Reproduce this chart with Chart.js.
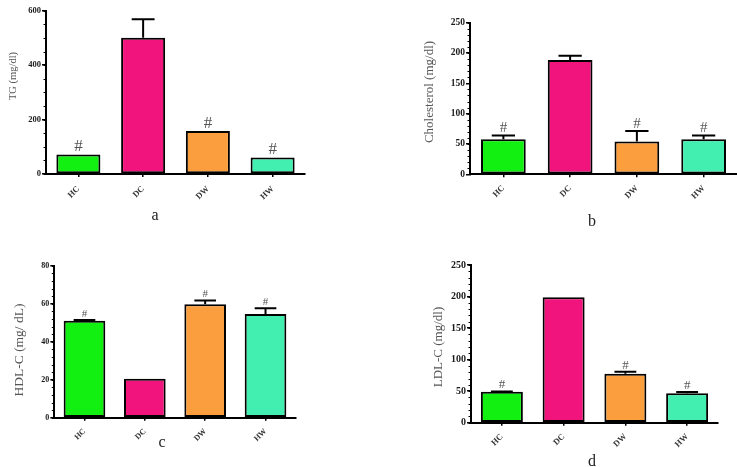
<!DOCTYPE html>
<html>
<head>
<meta charset="utf-8">
<script src="https://cdn.jsdelivr.net/npm/chart.js@4.4.1/dist/chart.umd.min.js"></script>
<style>
  body { margin: 0; background: #fff; }
  #page { position: relative; width: 737px; height: 467px; overflow: hidden; font-family: "Liberation Serif", serif; }
  canvas { position: absolute; }
  .ytitle { position: absolute; white-space: nowrap; color: #555; transform: translate(-50%, -50%) rotate(-90deg); }
  .cap { position: absolute; color: #222; font-size: 16px; line-height: 16px; transform: translateX(-50%); }
</style>
</head>
<body>
<div id="page">
  <canvas id="chartA" width="370" height="235" style="left:0;top:0"></canvas>
  <canvas id="chartB" width="367" height="235" style="left:370px;top:0"></canvas>
  <canvas id="chartC" width="370" height="232" style="left:0;top:235px"></canvas>
  <canvas id="chartD" width="367" height="232" style="left:370px;top:235px"></canvas>

  <div class="ytitle" style="left:12px;top:76px;font-size:10.5px">TG (mg/dl)</div>
  <div class="ytitle" style="left:429px;top:92px;font-size:13px">Cholesterol (mg/dl)</div>
  <div class="ytitle" style="left:19px;top:350px;font-size:13.5px">HDL-C (mg/ dL)</div>
  <div class="ytitle" style="left:438px;top:347px;font-size:13px">LDL-C (mg/dl)</div>

  <div class="cap" style="left:155px;top:207px">a</div>
  <div class="cap" style="left:592px;top:213px">b</div>
  <div class="cap" style="left:162px;top:434px">c</div>
  <div class="cap" style="left:592px;top:453px">d</div>
</div>
<script>
// groups and measured values (mean, upper error, significance mark)
const groups = ["HC", "DC", "DW", "HW"];

const tgValues = [72, 501, 158, 61];
const tgErrors = [0, 68, 0, 0];
const tgMarks = [true, false, true, true];
const tgTicks = [0, 200, 400, 600];

const cholValues = [58, 188.5, 54, 58];
const cholErrors = [6, 7, 17.5, 6];
const cholMarks = [true, false, true, true];
const cholTicks = [0, 50, 100, 150, 200, 250];

const hdlValues = [51, 20.5, 59.7, 54.6];
const hdlErrors = [0.4, 0, 2, 3];
const hdlMarks = [true, false, true, true];
const hdlTicks = [0, 20, 40, 60, 80];

const ldlValues = [49, 199, 77.6, 46.6];
const ldlErrors = [0.5, 0, 3, 2];
const ldlMarks = [true, false, true, true];
const ldlTicks = [0, 50, 100, 150, 200, 250];

const barColors = ["#12f012", "#f0147c", "#fb9e3e", "#43efb0"];

// upper error bars + "#" marks above them
function errorBarPlugin(errors, marks, markSize) {
  return {
    id: "errorBars",
    afterDatasetsDraw(chart) {
      const ctx = chart.ctx;
      const yScale = chart.scales.y;
      const values = chart.data.datasets[0].data;
      ctx.save();
      ctx.strokeStyle = "#000";
      ctx.lineWidth = 2;
      ctx.fillStyle = "#555";
      ctx.font = markSize + "px 'Liberation Serif', serif";
      ctx.textAlign = "center";
      ctx.textBaseline = "alphabetic";
      chart.getDatasetMeta(0).data.forEach((bar, i) => {
        let top = bar.y;
        if (errors[i] > 0) {
          const yTop = yScale.getPixelForValue(values[i] + errors[i]);
          const half = bar.width * 0.26;
          ctx.beginPath();
          ctx.moveTo(bar.x, bar.y);
          ctx.lineTo(bar.x, yTop);
          ctx.moveTo(bar.x - half, yTop);
          ctx.lineTo(bar.x + half, yTop);
          ctx.stroke();
          top = yTop;
        }
        if (marks[i]) ctx.fillText("#", bar.x, top - 3);
      });
      ctx.restore();
    }
  };
}

// small ticks between the labelled ones on the y axis
function minorTickPlugin(step) {
  return {
    id: "minorTicks",
    afterDraw(chart) {
      const ctx = chart.ctx;
      const y = chart.scales.y;
      const left = chart.chartArea.left;
      ctx.save();
      ctx.strokeStyle = "#000";
      ctx.lineWidth = 1;
      for (let v = 0; v <= y.max + 1e-9; v += step) {
        const py = Math.round(y.getPixelForValue(v)) + 0.5;
        ctx.beginPath();
        ctx.moveTo(left - 2.5, py);
        ctx.lineTo(left, py);
        ctx.stroke();
      }
      ctx.restore();
    }
  };
}

function makeChart(id, opt) {
  new Chart(document.getElementById(id), {
    type: "bar",
    data: {
      labels: groups,
      datasets: [{
        data: opt.values,
        backgroundColor: barColors,
        borderColor: "#000",
        borderWidth: 2,
        borderSkipped: false,
        barPercentage: opt.barPct,
        categoryPercentage: 1
      }]
    },
    options: {
      responsive: false,
      animation: false,
      layout: { padding: opt.padding },
      plugins: { legend: { display: false }, tooltip: { enabled: false } },
      scales: {
        x: {
          afterFit: (s) => { s.height = opt.xHeight; },
          border: { color: "#000", width: 2 },
          grid: { display: true, offset: false, drawOnChartArea: false, drawTicks: true, tickLength: 3, color: "#000", lineWidth: 1.5 },
          ticks: {
            minRotation: 45, maxRotation: 45, padding: opt.xPad, color: "#333",
            font: { family: "'Liberation Serif', serif", size: opt.xFont, weight: "bold" }
          }
        },
        y: {
          min: 0,
          max: opt.ticks[opt.ticks.length - 1],
          afterFit: (s) => { s.width = opt.yWidth; },
          afterBuildTicks: (s) => { s.ticks = opt.ticks.map((v) => ({ value: v })); },
          border: { color: "#000", width: 2 },
          grid: { display: true, drawOnChartArea: false, drawTicks: true, tickLength: 4, color: "#000", lineWidth: 1.5 },
          ticks: {
            padding: 1, color: "#1a1a1a",
            font: { family: "'Liberation Serif', serif", size: opt.yFont, weight: "bold" }
          }
        }
      }
    },
    plugins: [errorBarPlugin(opt.errors, opt.marks, opt.markSize), minorTickPlugin(opt.minor)]
  });
}

makeChart("chartA", {
  values: tgValues, errors: tgErrors, marks: tgMarks, ticks: tgTicks, minor: 50,
  padding: { top: 10.7, right: 65, left: 0, bottom: 0 },
  yWidth: 46, xHeight: 61, barPct: 0.68, xFont: 8.5, xPad: 7, yFont: 8.5, markSize: 17
});
makeChart("chartB", {
  values: cholValues, errors: cholErrors, marks: cholMarks, ticks: cholTicks, minor: 10,
  padding: { top: 22.7, right: 0, left: 0, bottom: 0 },
  yWidth: 100, xHeight: 60.7, barPct: 0.67, xFont: 8.5, xPad: 6, yFont: 9.5, markSize: 15
});
makeChart("chartC", {
  values: hdlValues, errors: hdlErrors, marks: hdlMarks, ticks: hdlTicks, minor: 4,
  padding: { top: 30.7, right: 74.3, left: 0, bottom: 0 },
  yWidth: 54.3, xHeight: 49.3, barPct: 0.69, xFont: 8, xPad: 6, yFont: 8, markSize: 11
});
makeChart("chartD", {
  values: ldlValues, errors: ldlErrors, marks: ldlMarks, ticks: ldlTicks, minor: 10,
  padding: { top: 30, right: 19, left: 0, bottom: 0 },
  yWidth: 101, xHeight: 44.3, barPct: 0.68, xFont: 8.5, xPad: 6, yFont: 10, markSize: 13
});
</script>
</body>
</html>
